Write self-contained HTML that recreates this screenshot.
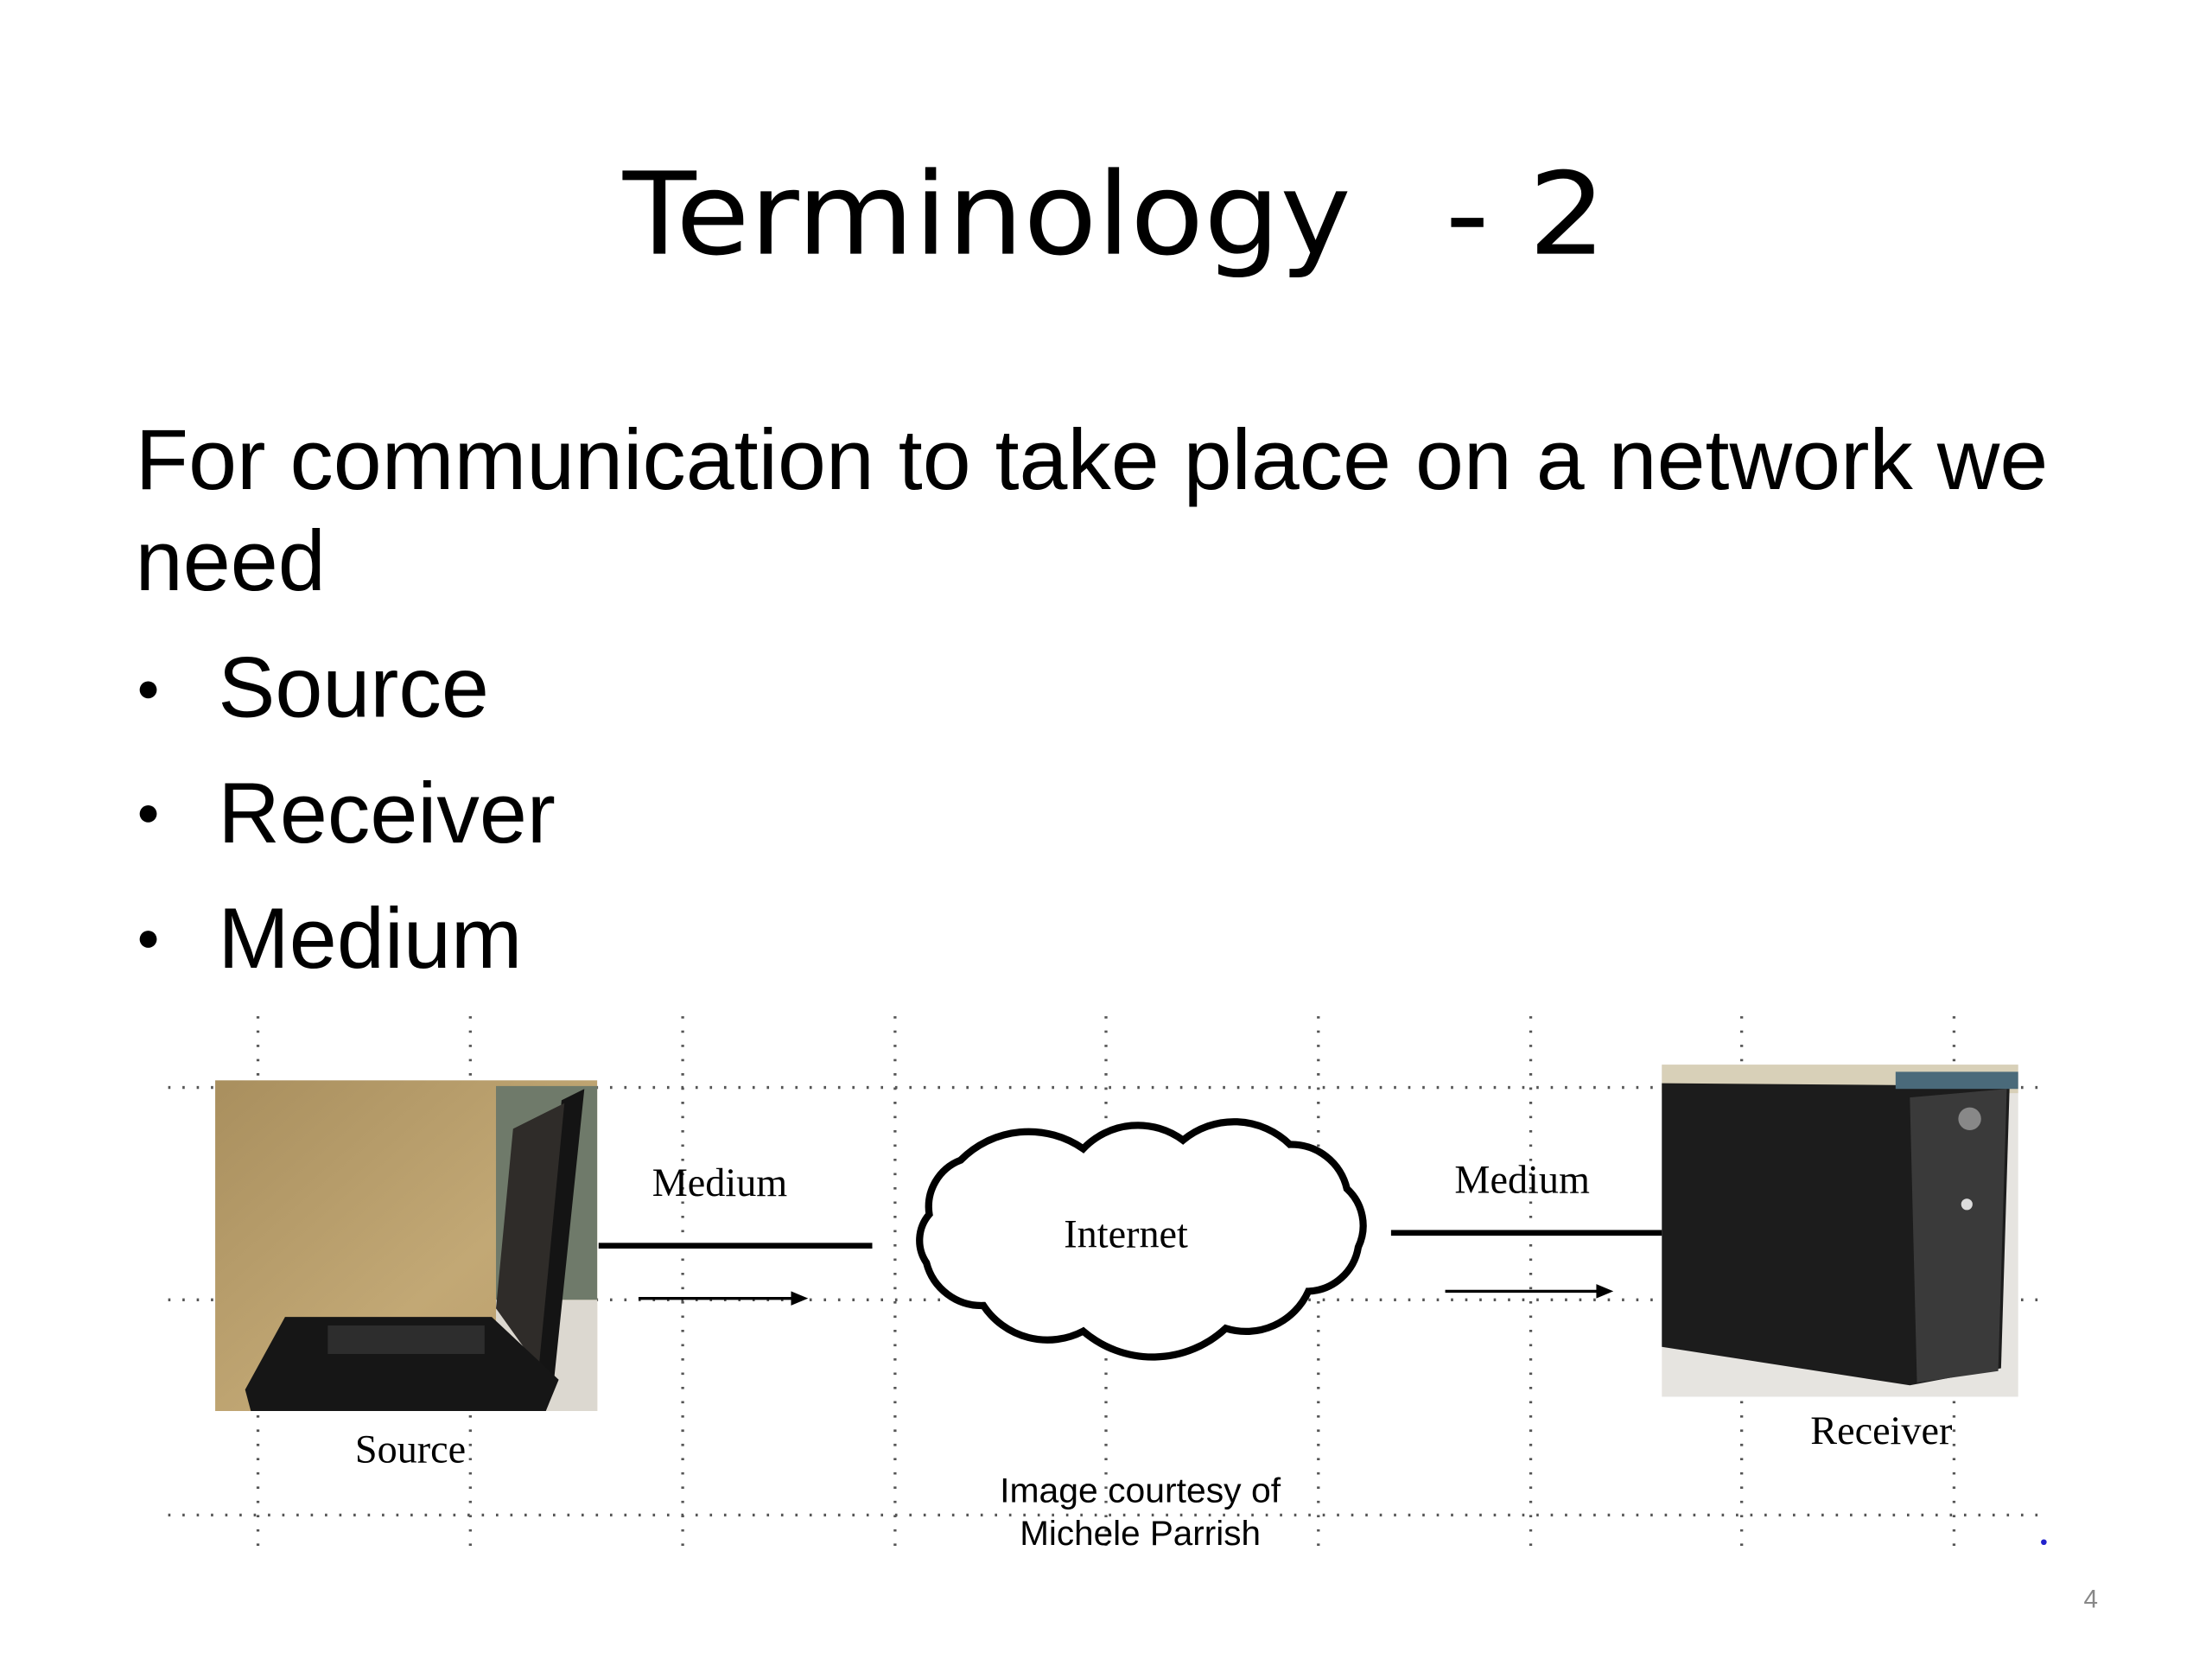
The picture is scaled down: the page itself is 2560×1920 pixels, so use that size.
<!DOCTYPE html>
<html><head><meta charset="utf-8"><style>
html,body{margin:0;padding:0;background:#fff;}
svg{display:block;}
</style></head><body>
<svg width="2560" height="1920" viewBox="0 0 1552 1164" xmlns="http://www.w3.org/2000/svg">
<defs>
<linearGradient id="wall" x1="0" y1="0" x2="1" y2="1">
<stop offset="0" stop-color="#a98f5e"/><stop offset="0.6" stop-color="#c2a875"/><stop offset="1" stop-color="#b99c6a"/>
</linearGradient>
</defs>
<rect width="1552" height="1164" fill="#fff"/>
<text x="437" y="178" font-family="DejaVu Sans, sans-serif" font-size="80" fill="#000" textLength="511" lengthAdjust="spacingAndGlyphs">Terminology</text>
<text x="1014" y="178" font-family="DejaVu Sans, sans-serif" font-size="80" fill="#000" textLength="113" lengthAdjust="spacingAndGlyphs">- 2</text>
<g font-family="Liberation Sans, Arial, sans-serif" font-size="60" fill="#000">
<text x="95" y="343" textLength="1342" lengthAdjust="spacingAndGlyphs">For communication to take place on a network we</text>
<text x="95" y="414">need</text>
<text x="153" y="503">Source</text>
<text x="153" y="591">Receiver</text>
<text x="153" y="679">Medium</text>
</g>
<g fill="#000"><circle cx="104" cy="484" r="6"/><circle cx="104" cy="571" r="6"/><circle cx="104" cy="659" r="6"/></g>

<!-- grid -->
<g stroke="#555" stroke-width="2" stroke-dasharray="1.6 8.4">
<line x1="181" y1="713" x2="181" y2="1090"/><line x1="330" y1="713" x2="330" y2="1090"/>
<line x1="479" y1="713" x2="479" y2="1090"/><line x1="628" y1="713" x2="628" y2="1090"/>
<line x1="776" y1="713" x2="776" y2="1090"/><line x1="925" y1="713" x2="925" y2="1090"/>
<line x1="1074" y1="713" x2="1074" y2="1090"/><line x1="1222" y1="713" x2="1222" y2="1090"/>
<line x1="1371" y1="713" x2="1371" y2="1090"/>
<line x1="118" y1="763" x2="1436" y2="763"/><line x1="118" y1="912" x2="1436" y2="912"/>
<line x1="118" y1="1063" x2="1436" y2="1063"/>
</g>

<!-- laptop image -->
<rect x="151" y="758" width="268" height="232" fill="url(#wall)"/>
<rect x="348" y="762" width="71" height="150" fill="#6f7a6a"/>
<rect x="348" y="912" width="71" height="78" fill="#dcd8d0"/>
<polygon points="394,772 410,764 388,975 376,975" fill="#141414"/>
<polygon points="360,792 396,774 378,960 348,918" fill="#2f2c29"/>
<polygon points="200,924 345,924 392,968 383,990 176,990 172,975" fill="#161616"/>
<rect x="230" y="930" width="110" height="20" fill="#2d2d2d"/>

<!-- receiver image -->
<rect x="1166" y="747" width="250" height="233" fill="#e6e4e0"/>
<rect x="1166" y="747" width="250" height="20" fill="#d8d0b8"/>
<polygon points="1166,760 1410,762 1404,960 1340,972 1166,945" fill="#1c1c1c"/>
<polygon points="1340,770 1408,764 1402,962 1345,970" fill="#3a3a3a"/>
<rect x="1330" y="752" width="86" height="12" fill="#4a6a7a"/>
<circle cx="1382" cy="785" r="8" fill="#888"/>
<circle cx="1380" cy="845" r="4" fill="#ddd"/>

<!-- connectors -->
<g stroke="#000" fill="none">
<line x1="420" y1="874" x2="612" y2="874" stroke-width="4"/>
<line x1="976" y1="865" x2="1166" y2="865" stroke-width="4"/>
<line x1="448" y1="911" x2="558" y2="911" stroke-width="2"/>
<line x1="1014" y1="906" x2="1123" y2="906" stroke-width="2"/>
</g>
<polygon points="567,911 555,906 555,916" fill="#000"/>
<polygon points="1132,906 1120,901 1120,911" fill="#000"/>

<!-- cloud -->
<path d="M652,852 A35,35 0 0 1 674,814 A67,67 0 0 1 760,806 A53,53 0 0 1 830,800 A56,56 0 0 1 905,803 A40,40 0 0 1 945,834 A35,35 0 0 1 953,875 A37,37 0 0 1 918,906 A48,48 0 0 1 860,932 A75,75 0 0 1 760,934 A54,54 0 0 1 690,916 A40,40 0 0 1 650,886 A28,28 0 0 1 652,852 Z" fill="#fff" stroke="#000" stroke-width="5"/>

<g font-family="Liberation Serif, serif" font-size="28" fill="#000" text-anchor="middle">
<text x="505" y="839">Medium</text>
<text x="1068" y="837">Medium</text>
<text x="790" y="875">Internet</text>
<text x="288" y="1026">Source</text>
<text x="1320" y="1013">Receiver</text>
</g>
<g font-family="Liberation Sans, Arial, sans-serif" font-size="24" fill="#000" text-anchor="middle">
<text x="800" y="1054" textLength="197" lengthAdjust="spacingAndGlyphs">Image courtesy of</text>
<text x="800" y="1084" textLength="169" lengthAdjust="spacingAndGlyphs">Michele Parrish</text>
</g>
<circle cx="1434" cy="1082" r="2" fill="#22c"/>
<text x="1467" y="1128" text-anchor="middle" font-family="Liberation Sans, sans-serif" font-size="18" fill="#888">4</text>
</svg>
</body></html>
